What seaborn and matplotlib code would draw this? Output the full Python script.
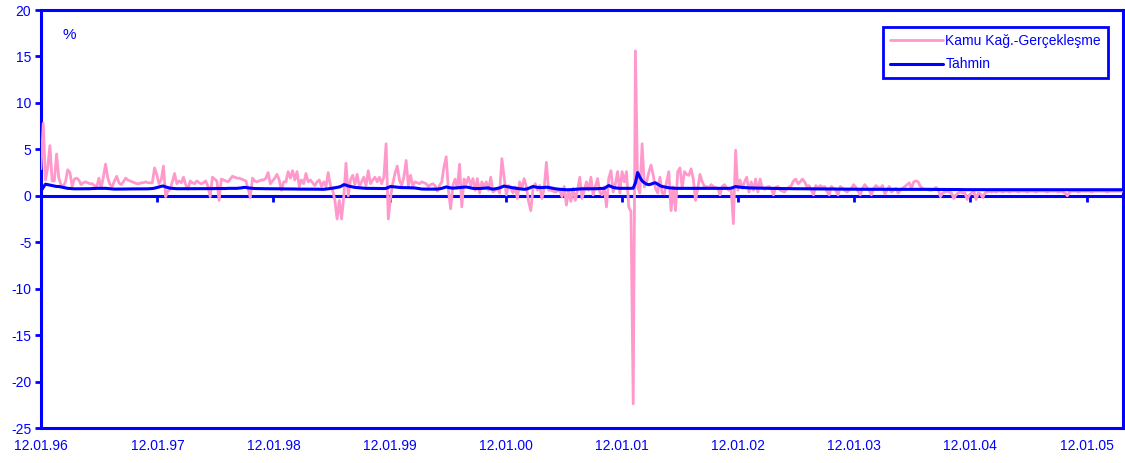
import matplotlib
matplotlib.use("Agg")
import matplotlib.pyplot as plt
import pandas as pd
import seaborn as sns

# ---------------- data ----------------
start_date = "1996-01-12"          # first weekly observation
tick_dates = ["1996-01-12", "1997-01-12", "1998-01-12", "1999-01-12", "2000-01-12",
              "2001-01-12", "2002-01-12", "2003-01-12", "2004-01-12", "2005-01-12"]
tick_labels = ["12.01.96", "12.01.97", "12.01.98", "12.01.99", "12.01.00",
               "12.01.01", "12.01.02", "12.01.03", "12.01.04", "12.01.05"]
y_ticks = [-25, -20, -15, -10, -5, 0, 5, 10, 15, 20]

series_actual = "Kamu Kağ.-Gerçekleşme"
series_forecast = "Tahmin"

# weekly realised values (%)
gerceklesme = [
    2.9, 7.8, 1.7, 3.0, 5.4, 1.6, 1.6, 4.5, 1.9, 1.2, 1.0, 1.5, 2.8,
    2.5, 1.0, 1.8, 1.9, 1.7, 1.2, 1.4, 1.5, 1.4, 1.3, 1.3, 1.1, 0.9,
    1.9, 0.8, 2.0, 3.4, 1.9, 1.2, 1.0, 1.6, 2.1, 1.4, 1.2, 1.5, 1.9,
    1.7, 1.6, 1.5, 1.4, 1.3, 1.3, 1.4, 1.4, 1.5, 1.4, 1.4, 1.4, 3.0,
    2.3, 1.3, 1.7, 3.2, -0.1, 0.5, 0.7, 1.5, 2.4, 1.3, 1.6, 1.4, 2.0,
    1.2, 0.7, 1.6, 1.4, 1.3, 1.6, 1.4, 1.3, 1.4, 1.6, 1.0, -0.1, 2.0,
    1.8, 1.6, -0.5, 1.8, 1.7, 1.6, 1.5, 1.8, 2.1, 2.0, 1.9, 1.9, 1.8,
    1.7, 1.6, 0.8, -0.2, 1.9, 1.6, 1.5, 1.6, 1.7, 1.7, 1.9, 2.5, 1.3,
    1.6, 1.9, 2.3, 1.7, 0.6, 1.5, 1.5, 2.6, 1.9, 2.7, 1.7, 2.6, 1.0,
    1.7, 1.3, 2.4, 1.5, 1.7, 1.4, 1.1, 1.5, 1.7, 1.0, 1.5, 1.0, 2.5,
    1.1, 0.6, -0.5, -2.5, -0.5, -2.5, -0.1, 3.5, 0.0, 1.7, 2.2, 1.2, 2.3,
    1.0, 1.5, 2.0, 1.1, 2.7, 1.3, 1.7, 2.0, 1.5, 2.0, 1.3, 2.0, 5.6,
    -2.5, -0.2, 1.3, 2.4, 3.2, 1.7, 1.1, 2.0, 3.8, 1.1, 2.2, 1.0, 1.5,
    1.4, 1.3, 1.5, 1.4, 1.3, 1.0, 1.2, 1.3, 1.1, 0.5, 1.1, 1.5, 3.1,
    4.2, 0.6, -1.4, 1.1, 1.8, 0.8, 3.4, -1.2, 1.8, 1.3, 2.0, 1.1, 1.85,
    0.6, 1.85, 0.3, 1.5, 0.95, 1.5, 0.6, 2.0, 0.4, 0.6, 0.8, 0.3, 4.0,
    2.0, 0.1, 1.1, 0.8, 0.3, 0.95, -0.3, 1.5, 0.8, 1.85, 1.0, -0.6, -1.6,
    0.8, 1.3, 0.6, 1.1, -0.3, 0.8, 3.6, 0.6, 0.6, 0.5, 0.4, 0.5, 0.6,
    -0.1, 1.0, -1.0, 0.6, -0.6, 0.8, -0.5, 0.6, 2.0, -0.3, 0.6, 1.5, 0.6,
    2.0, 0.1, 1.0, 1.85, 0.4, 0.1, 0.95, -1.2, 1.85, 2.7, 0.4, 1.3, 2.6,
    0.3, 2.6, 1.5, 2.6, -1.2, -1.7, -22.4, 15.6, 0.95, 0.3, 5.6, 0.95, 1.5,
    2.5, 3.3, 2.2, 0.8, 0.3, 2.0, 0.3, 0.2, 1.5, 2.6, -1.6, 0.95, -1.6,
    2.6, 3.0, 0.8, 2.6, 2.3, 2.2, 2.9, 1.8, -0.5, 0.8, 2.3, 1.5, 1.0,
    1.0, 0.8, 1.2, 1.0, 0.9, 0.8, 0.1, 1.0, 1.2, 0.8, 0.6, 0.7, -3.0,
    4.9, 0.6, 1.7, 0.8, 1.5, 2.0, 0.4, 1.5, 0.6, 1.8, 0.4, 1.8, 0.8,
    0.7, 0.9, 1.0, 0.8, 0.1, 0.9, 1.0, 0.6, 0.5, 0.4, 0.8, 0.9, 1.1,
    1.6, 1.8, 1.3, 1.5, 1.8, 1.5, 1.0, 1.1, 0.6, 0.1, 1.1, 0.8, 1.1,
    0.9, 1.0, 0.5, 0.1, 1.0, 0.8, 0.6, 0.1, 1.0, 0.8, 0.6, 0.4, 0.6,
    0.8, 1.2, 0.9, 0.5, 0.1, 0.8, 1.2, 0.9, 0.6, 0.1, 0.8, 1.1, 0.9,
    0.8, 1.1, 0.2, 0.6, 1.0, 0.4, 0.6, 0.8, 0.3, 0.6, 0.8, 1.0, 1.2,
    1.4, 0.8, 1.5, 1.6, 1.5, 1.0, 0.8, 0.7, 0.7, 0.6, 0.6, 0.7, 0.9,
    0.7, -0.1, 0.3, 0.4, 0.5, 0.4, 0.3, -0.3, 0.1, 0.3, 0.4, 0.3, 0.3,
    -0.4, 0.1, 0.3, 0.5, -0.4, 0.3, 0.2, -0.2, 0.3, 0.4, 0.5, 0.4, 0.5,
    0.4, 0.5, 0.5, 0.4, 0.5, 0.5, 0.4, 0.5, 0.5, 0.5, 0.4, 0.5, 0.5,
    0.5, 0.4, 0.5, 0.5, 0.5, 0.4, 0.5, 0.5, 0.5, 0.5, 0.4, 0.5, 0.5,
    0.5, 0.5, 0.4, 0.5, 0.4, 0.3, 0.0, 0.4, 0.5, 0.5, 0.5, 0.4, 0.5,
    0.5, 0.5, 0.5, 0.5, 0.4, 0.5, 0.5, 0.5, 0.5, 0.5, 0.5, 0.4, 0.5,
    0.5, 0.5, 0.5, 0.5, 0.5, 0.5,
]

# weekly forecast values (%)
tahmin = [
    0.5, 0.9, 1.25, 1.2, 1.15, 1.1, 1.05, 1.0, 1.0, 0.95, 0.9, 0.85, 0.8,
    0.78, 0.76, 0.75, 0.75, 0.75, 0.74, 0.74, 0.74, 0.75, 0.76, 0.78, 0.78, 0.8,
    0.8, 0.8, 0.8, 0.8, 0.78, 0.76, 0.74, 0.72, 0.72, 0.72, 0.72, 0.72, 0.73,
    0.74, 0.74, 0.74, 0.74, 0.75, 0.75, 0.75, 0.75, 0.75, 0.75, 0.76, 0.78, 0.82,
    0.88, 0.95, 1.02, 1.05, 0.95, 0.88, 0.82, 0.8, 0.78, 0.76, 0.76, 0.76, 0.76,
    0.76, 0.76, 0.76, 0.76, 0.75, 0.75, 0.75, 0.76, 0.76, 0.76, 0.77, 0.77, 0.77,
    0.78, 0.78, 0.78, 0.78, 0.78, 0.78, 0.8, 0.8, 0.8, 0.8, 0.8, 0.82, 0.85,
    0.9, 0.9, 0.85, 0.82, 0.8, 0.78, 0.78, 0.77, 0.77, 0.76, 0.76, 0.76, 0.77,
    0.77, 0.76, 0.75, 0.75, 0.74, 0.74, 0.74, 0.74, 0.74, 0.73, 0.73, 0.72, 0.72,
    0.72, 0.72, 0.72, 0.72, 0.73, 0.73, 0.72, 0.71, 0.7, 0.7, 0.7, 0.72, 0.75,
    0.78, 0.82, 0.86, 0.9, 0.95, 1.05, 1.2, 1.15, 1.05, 1.0, 0.95, 0.9, 0.88,
    0.86, 0.84, 0.82, 0.8, 0.8, 0.8, 0.8, 0.8, 0.79, 0.78, 0.78, 0.78, 0.8,
    0.9, 1.0, 0.98, 0.95, 0.92, 0.9, 0.88, 0.88, 0.88, 0.87, 0.86, 0.85, 0.84,
    0.8, 0.76, 0.73, 0.72, 0.72, 0.72, 0.72, 0.72, 0.72, 0.72, 0.75, 0.8, 0.88,
    0.95, 0.9, 0.85, 0.82, 0.84, 0.86, 0.88, 0.9, 0.92, 0.95, 0.9, 0.85, 0.8,
    0.78, 0.78, 0.78, 0.8, 0.82, 0.85, 0.85, 0.75, 0.72, 0.75, 0.8, 0.85, 0.95,
    1.05, 1.0, 0.95, 0.9, 0.86, 0.82, 0.78, 0.75, 0.72, 0.7, 0.72, 0.8, 0.9,
    1.0, 0.95, 0.9, 0.88, 0.88, 0.9, 0.92, 0.9, 0.85, 0.8, 0.75, 0.72, 0.7,
    0.68, 0.66, 0.65, 0.65, 0.66, 0.68, 0.7, 0.72, 0.74, 0.75, 0.75, 0.75, 0.75,
    0.76, 0.76, 0.76, 0.77, 0.78, 0.78, 0.8, 0.95, 1.1, 1.0, 0.9, 0.85, 0.82,
    0.8, 0.8, 0.8, 0.8, 0.8, 0.8, 0.82, 1.4, 2.5, 2.0, 1.6, 1.4, 1.25,
    1.2, 1.25, 1.35, 1.4, 1.25, 1.1, 1.0, 0.95, 0.9, 0.86, 0.84, 0.82, 0.8,
    0.8, 0.8, 0.8, 0.8, 0.8, 0.8, 0.8, 0.8, 0.8, 0.8, 0.8, 0.8, 0.8,
    0.8, 0.8, 0.8, 0.8, 0.8, 0.8, 0.8, 0.8, 0.8, 0.8, 0.8, 0.82, 0.9,
    1.0, 0.95, 0.92, 0.9, 0.88, 0.86, 0.85, 0.84, 0.84, 0.83, 0.83, 0.82, 0.82,
    0.81, 0.8, 0.8, 0.8, 0.79, 0.79, 0.78, 0.78, 0.78, 0.77, 0.77, 0.77, 0.76,
    0.76, 0.76, 0.76, 0.76, 0.75, 0.75, 0.75, 0.75, 0.75, 0.74, 0.74, 0.74, 0.74,
    0.74, 0.73, 0.73, 0.73, 0.73, 0.73, 0.72, 0.72, 0.72, 0.72, 0.72, 0.71, 0.71,
    0.71, 0.71, 0.71, 0.7, 0.7, 0.7, 0.7, 0.7, 0.7, 0.7, 0.7, 0.7, 0.7,
    0.7, 0.7, 0.7, 0.7, 0.7, 0.7, 0.7, 0.7, 0.7, 0.7, 0.7, 0.7, 0.7,
    0.7, 0.7, 0.7, 0.7, 0.7, 0.7, 0.69, 0.69, 0.69, 0.69, 0.69, 0.68, 0.68,
    0.68, 0.68, 0.68, 0.68, 0.68, 0.67, 0.67, 0.67, 0.67, 0.67, 0.67, 0.66, 0.66,
    0.66, 0.66, 0.66, 0.66, 0.66, 0.66, 0.66, 0.66, 0.66, 0.66, 0.66, 0.66, 0.66,
    0.65, 0.65, 0.65, 0.65, 0.65, 0.65, 0.65, 0.65, 0.65, 0.65, 0.65, 0.65, 0.65,
    0.65, 0.65, 0.65, 0.65, 0.65, 0.65, 0.65, 0.65, 0.65, 0.65, 0.65, 0.65, 0.65,
    0.65, 0.65, 0.65, 0.65, 0.65, 0.65, 0.65, 0.65, 0.65, 0.65, 0.65, 0.65, 0.65,
    0.65, 0.65, 0.65, 0.65, 0.65, 0.65, 0.65, 0.65, 0.65, 0.65, 0.65, 0.65, 0.65,
    0.65, 0.65, 0.65, 0.65, 0.65, 0.65,
]

# ---------------- styling ----------------
BLUE = "#0000FF"
PINK = "#FF99CC"

sns.set_style("white")
plt.rcParams["font.family"] = ["Liberation Sans", "DejaVu Sans"]

df_a = pd.DataFrame({"Tarih": pd.date_range(start_date, periods=len(gerceklesme), freq="7D"),
                     "Değer": gerceklesme})
df_t = pd.DataFrame({"Tarih": pd.date_range(start_date, periods=len(tahmin), freq="7D"),
                     "Değer": tahmin})

fig = plt.figure(figsize=(11.25, 4.63), dpi=100)
ax = fig.add_axes([41 / 1125, 35 / 463, 1082 / 1125, 418 / 463])

sns.lineplot(data=df_a, x="Tarih", y="Değer", color=PINK, linewidth=2.0,
             label=series_actual, ax=ax, zorder=3)
sns.lineplot(data=df_t, x="Tarih", y="Değer", color=BLUE, linewidth=2.2,
             label=series_forecast, ax=ax, zorder=4)

x_min = df_a["Tarih"].iloc[0]
x_max = df_a["Tarih"].iloc[-1]
ax.set_xlim(x_min, x_max)
ax.set_ylim(y_ticks[0], y_ticks[-1])
ax.set_xlabel("")
ax.set_ylabel("")

ax.set_yticks(y_ticks)
ax.set_yticklabels([str(v) for v in y_ticks])
tick_pos = pd.to_datetime(tick_dates)
ax.set_xticks(tick_pos)
ax.set_xticklabels(tick_labels)

ax.tick_params(axis="y", direction="out", length=4, width=2, color=BLUE,
               labelcolor=BLUE, labelsize=10, pad=3, left=True)
ax.tick_params(axis="x", length=0, labelcolor=BLUE, labelsize=10, pad=8, bottom=True)

for side in ["left", "bottom", "top", "right"]:
    ax.spines[side].set_visible(True)
    ax.spines[side].set_color(BLUE)
    ax.spines[side].set_linewidth(2.2)

# category axis crossing at zero, ticks pointing down
zero_frac = (0 - y_ticks[0]) / (y_ticks[-1] - y_ticks[0])
sec = ax.secondary_xaxis(zero_frac)
sec.set_xticks(tick_pos)
sec.xaxis.set_ticks_position("bottom")
sec.tick_params(axis="x", direction="out", length=4, width=2, color=BLUE,
                labelbottom=False, labeltop=False)
for side in ["top", "bottom"]:
    sec.spines[side].set_color(BLUE)
    sec.spines[side].set_linewidth(2.2)

ax.text(0.026, 0.94, "%", transform=ax.transAxes, color=BLUE, fontsize=11,
        ha="center", va="center")

leg = ax.legend(loc="upper right", bbox_to_anchor=(0.986, 0.96), borderaxespad=0,
                frameon=True, fancybox=False, fontsize=10, handlelength=3.8,
                handletextpad=0.15, labelspacing=0.7, borderpad=0.5)
leg.get_frame().set_edgecolor(BLUE)
leg.get_frame().set_linewidth(2.0)
leg.get_frame().set_alpha(1)
for t in leg.get_texts():
    t.set_color(BLUE)

fig.savefig("out.png", dpi=100)
